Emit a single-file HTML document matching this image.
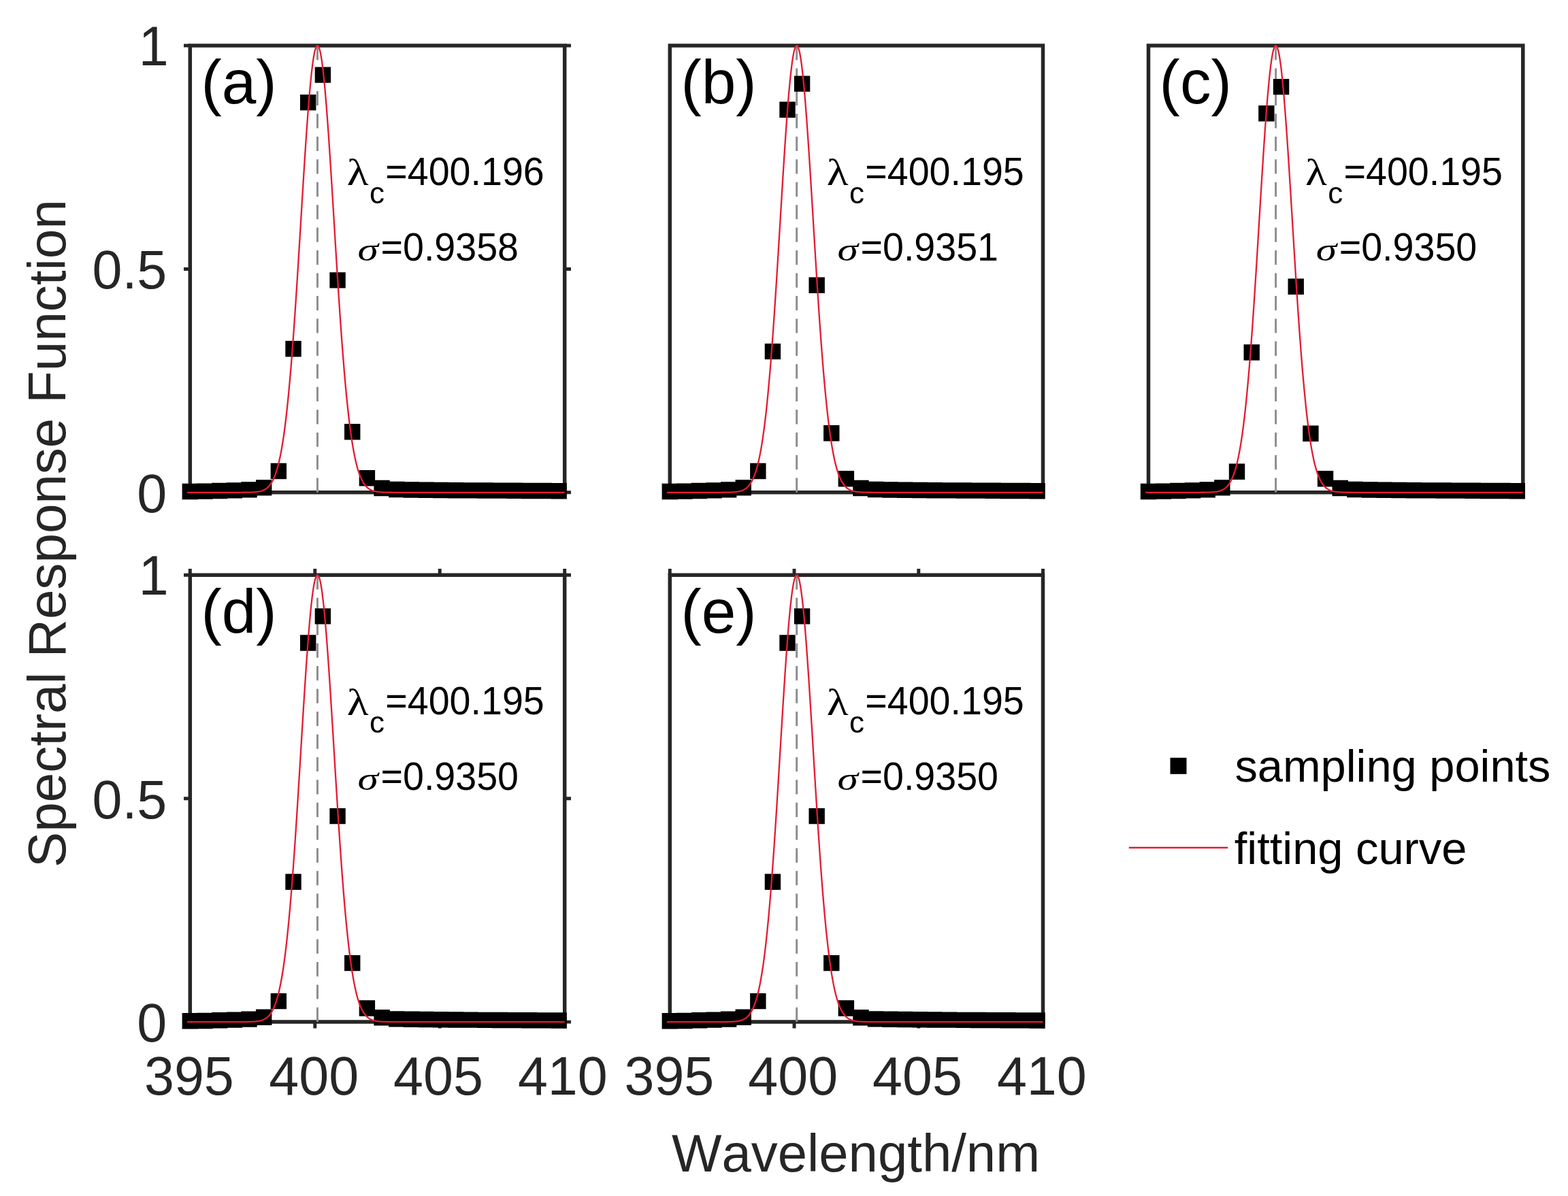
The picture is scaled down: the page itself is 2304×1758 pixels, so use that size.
<!DOCTYPE html>
<html><head><meta charset="utf-8"><title>Spectral Response Function</title>
<style>html,body{margin:0;padding:0;background:#fff;}svg{display:block;}text{font-kerning:none;font-feature-settings:"kern" 0;}</style>
</head><body>
<svg width="2304" height="1758" viewBox="0 0 2304 1758" font-family="Liberation Sans, Arial, sans-serif"><rect width="100%" height="100%" fill="#fff"/><g><path d="M279.3 67H829.7V723.8H279.3Z" fill="none" stroke="#262626" stroke-width="5.5" stroke-linejoin="miter"/><path d="M270 723.8H279.3M829.7 723.8H839M270 395.4H279.3M829.7 395.4H839M270 67H279.3M829.7 67H839" stroke="#262626" stroke-width="4.95" fill="none"/><path d="M466.44 67V723.8" stroke="#8e8e8e" stroke-width="3" stroke-dasharray="21.2 12.25" fill="none"/><path d="M267.6 710.79h23.4v23.4h-23.4zM289.27 710.46h23.4v23.4h-23.4zM310.95 709.8h23.4v23.4h-23.4zM332.62 709.14h23.4v23.4h-23.4zM354.3 708.16h23.4v23.4h-23.4zM375.97 705.2h23.4v23.4h-23.4zM397.65 680.84h23.4v23.4h-23.4zM419.32 501h23.4v23.4h-23.4zM441 138.91h23.4v23.4h-23.4zM462.67 98.39h23.4v23.4h-23.4zM484.35 400.19h23.4v23.4h-23.4zM506.02 623.1h23.4v23.4h-23.4zM527.7 691.02h23.4v23.4h-23.4zM549.37 705.79h23.4v23.4h-23.4zM571.05 707.83h23.4v23.4h-23.4zM592.72 708.29h23.4v23.4h-23.4zM614.4 708.49h23.4v23.4h-23.4zM636.07 708.82h23.4v23.4h-23.4zM657.75 709.01h23.4v23.4h-23.4zM679.42 709.14h23.4v23.4h-23.4zM701.1 709.34h23.4v23.4h-23.4zM722.77 709.47h23.4v23.4h-23.4zM744.44 709.6h23.4v23.4h-23.4zM766.12 709.74h23.4v23.4h-23.4zM787.79 709.87h23.4v23.4h-23.4zM809.47 710h23.4v23.4h-23.4z" fill="#000"/><path d="M274.9 723.8L275.82 723.8L276.75 723.8L277.67 723.8L278.6 723.8L279.52 723.8L280.44 723.8L281.37 723.8L282.29 723.8L283.22 723.8L284.14 723.8L285.07 723.8L285.99 723.8L286.92 723.8L287.84 723.8L288.77 723.8L289.69 723.8L290.62 723.8L291.54 723.8L292.47 723.8L293.39 723.8L294.31 723.8L295.24 723.8L296.16 723.8L297.09 723.8L298.01 723.8L298.94 723.8L299.86 723.8L300.79 723.8L301.71 723.8L302.64 723.8L303.56 723.8L304.49 723.8L305.41 723.8L306.34 723.8L307.26 723.8L308.18 723.8L309.11 723.8L310.03 723.8L310.96 723.8L311.88 723.8L312.81 723.8L313.73 723.8L314.66 723.8L315.58 723.8L316.51 723.8L317.43 723.8L318.36 723.8L319.28 723.8L320.21 723.8L321.13 723.8L322.06 723.8L322.98 723.8L323.9 723.8L324.83 723.8L325.75 723.8L326.68 723.8L327.6 723.8L328.53 723.8L329.45 723.8L330.38 723.8L331.3 723.8L332.23 723.8L333.15 723.8L334.08 723.8L335 723.8L335.93 723.8L336.85 723.8L337.77 723.8L338.7 723.8L339.62 723.8L340.55 723.8L341.47 723.8L342.4 723.8L343.32 723.8L344.25 723.8L345.17 723.8L346.1 723.8L347.02 723.8L347.95 723.8L348.87 723.79L349.8 723.79L350.72 723.79L351.64 723.79L352.57 723.79L353.49 723.79L354.42 723.78L355.34 723.78L356.27 723.78L357.19 723.77L358.12 723.77L359.04 723.76L359.97 723.75L360.89 723.74L361.82 723.73L362.74 723.72L363.67 723.71L364.59 723.69L365.51 723.67L366.44 723.65L367.36 723.63L368.29 723.6L369.21 723.57L370.14 723.53L371.06 723.49L371.99 723.44L372.91 723.38L373.84 723.31L374.76 723.24L375.69 723.15L376.61 723.06L377.54 722.94L378.46 722.82L379.38 722.68L380.31 722.51L381.23 722.33L382.16 722.12L383.08 721.89L384.01 721.63L384.93 721.33L385.86 721L386.78 720.63L387.71 720.21L388.63 719.75L389.56 719.23L390.48 718.66L391.41 718.01L392.33 717.3L393.25 716.52L394.18 715.64L395.1 714.68L396.03 713.62L396.95 712.45L397.88 711.16L398.8 709.75L399.73 708.21L400.65 706.52L401.58 704.67L402.5 702.65L403.43 700.46L404.35 698.08L405.28 695.49L406.2 692.69L407.12 689.66L408.05 686.39L408.97 682.87L409.9 679.07L410.82 675L411.75 670.63L412.67 665.96L413.6 660.96L414.52 655.63L415.45 649.95L416.37 643.92L417.3 637.51L418.22 630.73L419.15 623.56L420.07 615.99L420.99 608.02L421.92 599.63L422.84 590.83L423.77 581.61L424.69 571.97L425.62 561.91L426.54 551.43L427.47 540.53L428.39 529.23L429.32 517.52L430.24 505.42L431.17 492.95L432.09 480.12L433.02 466.94L433.94 453.43L434.87 439.63L435.79 425.55L436.71 411.22L437.64 396.68L438.56 381.95L439.49 367.07L440.41 352.07L441.34 337.01L442.26 321.91L443.19 306.82L444.11 291.78L445.04 276.85L445.96 262.06L446.89 247.47L447.81 233.13L448.74 219.07L449.66 205.37L450.58 192.05L451.51 179.18L452.43 166.79L453.36 154.94L454.28 143.68L455.21 133.04L456.13 123.07L457.06 113.81L457.98 105.3L458.91 97.57L459.83 90.65L460.76 84.57L461.68 79.37L462.61 75.05L463.53 71.65L464.45 69.16L465.38 67.62L466.3 67.01L467.23 67.35L468.15 68.63L469.08 70.84L470 73.99L470.93 78.04L471.85 83L472.78 88.82L473.7 95.5L474.63 103.01L475.55 111.3L476.48 120.35L477.4 130.12L478.32 140.57L479.25 151.66L480.17 163.35L481.1 175.59L482.02 188.33L482.95 201.52L483.87 215.12L484.8 229.08L485.72 243.35L486.65 257.87L487.57 272.61L488.5 287.5L489.42 302.51L490.35 317.59L491.27 332.69L492.19 347.77L493.12 362.79L494.04 377.71L494.97 392.49L495.89 407.09L496.82 421.48L497.74 435.63L498.67 449.52L499.59 463.11L500.52 476.38L501.44 489.32L502.37 501.9L503.29 514.1L504.22 525.92L505.14 537.34L506.06 548.36L506.99 558.96L507.91 569.14L508.84 578.9L509.76 588.24L510.69 597.16L511.61 605.66L512.54 613.75L513.46 621.44L514.39 628.72L515.31 635.62L516.24 642.13L517.16 648.26L518.09 654.04L519.01 659.47L519.93 664.56L520.86 669.33L521.78 673.78L522.71 677.94L523.63 681.81L524.56 685.41L525.48 688.75L526.41 691.85L527.33 694.71L528.26 697.36L529.18 699.8L530.11 702.05L531.03 704.11L531.96 706L532.88 707.74L533.8 709.33L534.73 710.77L535.65 712.09L536.58 713.3L537.5 714.39L538.43 715.38L539.35 716.28L540.28 717.09L541.2 717.82L542.13 718.48L543.05 719.07L543.98 719.61L544.9 720.09L545.83 720.51L546.75 720.9L547.68 721.24L548.6 721.55L549.52 721.82L550.45 722.06L551.37 722.27L552.3 722.46L553.22 722.63L554.15 722.78L555.07 722.91L556 723.03L556.92 723.13L557.85 723.22L558.77 723.29L559.7 723.36L560.62 723.42L561.55 723.47L562.47 723.52L563.39 723.56L564.32 723.59L565.24 723.62L566.17 723.65L567.09 723.67L568.02 723.69L568.94 723.7L569.87 723.72L570.79 723.73L571.72 723.74L572.64 723.75L573.57 723.76L574.49 723.76L575.42 723.77L576.34 723.77L577.26 723.78L578.19 723.78L579.11 723.78L580.04 723.79L580.96 723.79L581.89 723.79L582.81 723.79L583.74 723.79L584.66 723.79L585.59 723.8L586.51 723.8L587.44 723.8L588.36 723.8L589.29 723.8L590.21 723.8L591.13 723.8L592.06 723.8L592.98 723.8L593.91 723.8L594.83 723.8L595.76 723.8L596.68 723.8L597.61 723.8L598.53 723.8L599.46 723.8L600.38 723.8L601.31 723.8L602.23 723.8L603.16 723.8L604.08 723.8L605 723.8L605.93 723.8L606.85 723.8L607.78 723.8L608.7 723.8L609.63 723.8L610.55 723.8L611.48 723.8L612.4 723.8L613.33 723.8L614.25 723.8L615.18 723.8L616.1 723.8L617.03 723.8L617.95 723.8L618.87 723.8L619.8 723.8L620.72 723.8L621.65 723.8L622.57 723.8L623.5 723.8L624.42 723.8L625.35 723.8L626.27 723.8L627.2 723.8L628.12 723.8L629.05 723.8L629.97 723.8L630.9 723.8L631.82 723.8L632.74 723.8L633.67 723.8L634.59 723.8L635.52 723.8L636.44 723.8L637.37 723.8L638.29 723.8L639.22 723.8L640.14 723.8L641.07 723.8L641.99 723.8L642.92 723.8L643.84 723.8L644.77 723.8L645.69 723.8L646.61 723.8L647.54 723.8L648.46 723.8L649.39 723.8L650.31 723.8L651.24 723.8L652.16 723.8L653.09 723.8L654.01 723.8L654.94 723.8L655.86 723.8L656.79 723.8L657.71 723.8L658.64 723.8L659.56 723.8L660.49 723.8L661.41 723.8L662.33 723.8L663.26 723.8L664.18 723.8L665.11 723.8L666.03 723.8L666.96 723.8L667.88 723.8L668.81 723.8L669.73 723.8L670.66 723.8L671.58 723.8L672.51 723.8L673.43 723.8L674.36 723.8L675.28 723.8L676.2 723.8L677.13 723.8L678.05 723.8L678.98 723.8L679.9 723.8L680.83 723.8L681.75 723.8L682.68 723.8L683.6 723.8L684.53 723.8L685.45 723.8L686.38 723.8L687.3 723.8L688.23 723.8L689.15 723.8L690.07 723.8L691 723.8L691.92 723.8L692.85 723.8L693.77 723.8L694.7 723.8L695.62 723.8L696.55 723.8L697.47 723.8L698.4 723.8L699.32 723.8L700.25 723.8L701.17 723.8L702.1 723.8L703.02 723.8L703.94 723.8L704.87 723.8L705.79 723.8L706.72 723.8L707.64 723.8L708.57 723.8L709.49 723.8L710.42 723.8L711.34 723.8L712.27 723.8L713.19 723.8L714.12 723.8L715.04 723.8L715.97 723.8L716.89 723.8L717.81 723.8L718.74 723.8L719.66 723.8L720.59 723.8L721.51 723.8L722.44 723.8L723.36 723.8L724.29 723.8L725.21 723.8L726.14 723.8L727.06 723.8L727.99 723.8L728.91 723.8L729.84 723.8L730.76 723.8L731.68 723.8L732.61 723.8L733.53 723.8L734.46 723.8L735.38 723.8L736.31 723.8L737.23 723.8L738.16 723.8L739.08 723.8L740.01 723.8L740.93 723.8L741.86 723.8L742.78 723.8L743.71 723.8L744.63 723.8L745.55 723.8L746.48 723.8L747.4 723.8L748.33 723.8L749.25 723.8L750.18 723.8L751.1 723.8L752.03 723.8L752.95 723.8L753.88 723.8L754.8 723.8L755.73 723.8L756.65 723.8L757.58 723.8L758.5 723.8L759.42 723.8L760.35 723.8L761.27 723.8L762.2 723.8L763.12 723.8L764.05 723.8L764.97 723.8L765.9 723.8L766.82 723.8L767.75 723.8L768.67 723.8L769.6 723.8L770.52 723.8L771.45 723.8L772.37 723.8L773.3 723.8L774.22 723.8L775.14 723.8L776.07 723.8L776.99 723.8L777.92 723.8L778.84 723.8L779.77 723.8L780.69 723.8L781.62 723.8L782.54 723.8L783.47 723.8L784.39 723.8L785.32 723.8L786.24 723.8L787.17 723.8L788.09 723.8L789.01 723.8L789.94 723.8L790.86 723.8L791.79 723.8L792.71 723.8L793.64 723.8L794.56 723.8L795.49 723.8L796.41 723.8L797.34 723.8L798.26 723.8L799.19 723.8L800.11 723.8L801.04 723.8L801.96 723.8L802.88 723.8L803.81 723.8L804.73 723.8L805.66 723.8L806.58 723.8L807.51 723.8L808.43 723.8L809.36 723.8L810.28 723.8L811.21 723.8L812.13 723.8L813.06 723.8L813.98 723.8L814.91 723.8L815.83 723.8L816.75 723.8L817.68 723.8L818.6 723.8L819.53 723.8L820.45 723.8L821.38 723.8L822.3 723.8L823.23 723.8L824.15 723.8L825.08 723.8L826 723.8L826.93 723.8L827.85 723.8L828.78 723.8L829.7 723.8" fill="none" stroke="#e41b33" stroke-width="2.3" stroke-linejoin="round"/><text transform="translate(295.4 152)" font-size="91" fill="#000">(a)</text><text transform="translate(509.7 272.3) scale(1.18 1.0)" font-size="55.8" fill="#000" font-family="Liberation Serif, serif">λ</text><text transform="translate(543.1 298.8) scale(1.0 1.02)" font-size="44" fill="#000">c</text><text transform="translate(566.3 271.8) scale(1.0 1.035)" font-size="55.6" fill="#000">=400.196</text><text transform="translate(525.5 383.1) scale(1.255 1.0)" font-size="49.1" fill="#000" font-family="Liberation Serif, serif" font-style="italic">σ</text><text transform="translate(559.5 382.5) scale(1.0 1.035)" font-size="55.6" fill="#000">=0.9358</text><text transform="translate(247.8 96) scale(1.0 1.025)" font-size="79" fill="#262626" text-anchor="end">1</text><text transform="translate(245.3 424.4) scale(1.0 1.02)" font-size="79" fill="#262626" text-anchor="end">0.5</text><text transform="translate(245.3 752.8) scale(1.0 1.02)" font-size="79" fill="#262626" text-anchor="end">0</text></g><g><path d="M984.3 67H1532.5V723.8H984.3Z" fill="none" stroke="#262626" stroke-width="5.5" stroke-linejoin="miter"/><path d="M1170.69 67V723.8" stroke="#8e8e8e" stroke-width="3" stroke-dasharray="21.2 12.25" fill="none"/><path d="M972.6 710.79h23.4v23.4h-23.4zM994.19 710.46h23.4v23.4h-23.4zM1015.78 709.8h23.4v23.4h-23.4zM1037.36 709.14h23.4v23.4h-23.4zM1058.95 708.16h23.4v23.4h-23.4zM1080.54 705.2h23.4v23.4h-23.4zM1102.13 680.77h23.4v23.4h-23.4zM1123.72 504.88h23.4v23.4h-23.4zM1145.3 149.49h23.4v23.4h-23.4zM1166.89 111.39h23.4v23.4h-23.4zM1188.48 407.48h23.4v23.4h-23.4zM1210.07 625.01h23.4v23.4h-23.4zM1231.66 692h23.4v23.4h-23.4zM1253.25 705.79h23.4v23.4h-23.4zM1274.83 707.83h23.4v23.4h-23.4zM1296.42 708.29h23.4v23.4h-23.4zM1318.01 708.49h23.4v23.4h-23.4zM1339.6 708.82h23.4v23.4h-23.4zM1361.19 709.01h23.4v23.4h-23.4zM1382.77 709.14h23.4v23.4h-23.4zM1404.36 709.34h23.4v23.4h-23.4zM1425.95 709.47h23.4v23.4h-23.4zM1447.54 709.6h23.4v23.4h-23.4zM1469.13 709.74h23.4v23.4h-23.4zM1490.71 709.87h23.4v23.4h-23.4zM1512.3 710h23.4v23.4h-23.4z" fill="#000"/><path d="M979.91 723.8L980.84 723.8L981.76 723.8L982.68 723.8L983.6 723.8L984.52 723.8L985.44 723.8L986.36 723.8L987.28 723.8L988.2 723.8L989.12 723.8L990.05 723.8L990.97 723.8L991.89 723.8L992.81 723.8L993.73 723.8L994.65 723.8L995.57 723.8L996.49 723.8L997.41 723.8L998.33 723.8L999.25 723.8L1000.18 723.8L1001.1 723.8L1002.02 723.8L1002.94 723.8L1003.86 723.8L1004.78 723.8L1005.7 723.8L1006.62 723.8L1007.54 723.8L1008.46 723.8L1009.39 723.8L1010.31 723.8L1011.23 723.8L1012.15 723.8L1013.07 723.8L1013.99 723.8L1014.91 723.8L1015.83 723.8L1016.75 723.8L1017.67 723.8L1018.6 723.8L1019.52 723.8L1020.44 723.8L1021.36 723.8L1022.28 723.8L1023.2 723.8L1024.12 723.8L1025.04 723.8L1025.96 723.8L1026.88 723.8L1027.81 723.8L1028.73 723.8L1029.65 723.8L1030.57 723.8L1031.49 723.8L1032.41 723.8L1033.33 723.8L1034.25 723.8L1035.17 723.8L1036.09 723.8L1037.01 723.8L1037.94 723.8L1038.86 723.8L1039.78 723.8L1040.7 723.8L1041.62 723.8L1042.54 723.8L1043.46 723.8L1044.38 723.8L1045.3 723.8L1046.22 723.8L1047.15 723.8L1048.07 723.8L1048.99 723.8L1049.91 723.8L1050.83 723.8L1051.75 723.8L1052.67 723.8L1053.59 723.79L1054.51 723.79L1055.43 723.79L1056.36 723.79L1057.28 723.79L1058.2 723.79L1059.12 723.78L1060.04 723.78L1060.96 723.78L1061.88 723.77L1062.8 723.77L1063.72 723.76L1064.64 723.75L1065.57 723.74L1066.49 723.73L1067.41 723.72L1068.33 723.71L1069.25 723.69L1070.17 723.67L1071.09 723.65L1072.01 723.63L1072.93 723.6L1073.85 723.57L1074.77 723.53L1075.7 723.49L1076.62 723.44L1077.54 723.38L1078.46 723.31L1079.38 723.24L1080.3 723.15L1081.22 723.06L1082.14 722.94L1083.06 722.82L1083.98 722.68L1084.91 722.51L1085.83 722.33L1086.75 722.12L1087.67 721.89L1088.59 721.63L1089.51 721.33L1090.43 721L1091.35 720.63L1092.27 720.21L1093.19 719.75L1094.12 719.23L1095.04 718.66L1095.96 718.01L1096.88 717.3L1097.8 716.52L1098.72 715.64L1099.64 714.68L1100.56 713.62L1101.48 712.45L1102.4 711.16L1103.33 709.75L1104.25 708.21L1105.17 706.52L1106.09 704.67L1107.01 702.65L1107.93 700.46L1108.85 698.08L1109.77 695.49L1110.69 692.69L1111.61 689.66L1112.53 686.39L1113.46 682.87L1114.38 679.07L1115.3 675L1116.22 670.63L1117.14 665.96L1118.06 660.96L1118.98 655.63L1119.9 649.95L1120.82 643.92L1121.74 637.51L1122.67 630.73L1123.59 623.56L1124.51 615.99L1125.43 608.02L1126.35 599.63L1127.27 590.83L1128.19 581.61L1129.11 571.97L1130.03 561.91L1130.95 551.43L1131.88 540.53L1132.8 529.23L1133.72 517.52L1134.64 505.42L1135.56 492.95L1136.48 480.12L1137.4 466.94L1138.32 453.43L1139.24 439.63L1140.16 425.55L1141.09 411.22L1142.01 396.68L1142.93 381.95L1143.85 367.07L1144.77 352.07L1145.69 337.01L1146.61 321.91L1147.53 306.82L1148.45 291.78L1149.37 276.85L1150.29 262.06L1151.22 247.47L1152.14 233.13L1153.06 219.07L1153.98 205.37L1154.9 192.05L1155.82 179.18L1156.74 166.79L1157.66 154.94L1158.58 143.68L1159.5 133.04L1160.43 123.07L1161.35 113.81L1162.27 105.3L1163.19 97.57L1164.11 90.65L1165.03 84.57L1165.95 79.37L1166.87 75.05L1167.79 71.65L1168.71 69.16L1169.64 67.62L1170.56 67.01L1171.48 67.35L1172.4 68.63L1173.32 70.84L1174.24 73.99L1175.16 78.04L1176.08 83L1177 88.82L1177.92 95.5L1178.85 103.01L1179.77 111.3L1180.69 120.35L1181.61 130.12L1182.53 140.57L1183.45 151.66L1184.37 163.35L1185.29 175.59L1186.21 188.33L1187.13 201.52L1188.05 215.12L1188.98 229.08L1189.9 243.35L1190.82 257.87L1191.74 272.61L1192.66 287.5L1193.58 302.51L1194.5 317.59L1195.42 332.69L1196.34 347.77L1197.26 362.79L1198.19 377.71L1199.11 392.49L1200.03 407.09L1200.95 421.48L1201.87 435.63L1202.79 449.52L1203.71 463.11L1204.63 476.38L1205.55 489.32L1206.47 501.9L1207.4 514.1L1208.32 525.92L1209.24 537.34L1210.16 548.36L1211.08 558.96L1212 569.14L1212.92 578.9L1213.84 588.24L1214.76 597.16L1215.68 605.66L1216.61 613.75L1217.53 621.44L1218.45 628.72L1219.37 635.62L1220.29 642.13L1221.21 648.26L1222.13 654.04L1223.05 659.47L1223.97 664.56L1224.89 669.33L1225.81 673.78L1226.74 677.94L1227.66 681.81L1228.58 685.41L1229.5 688.75L1230.42 691.85L1231.34 694.71L1232.26 697.36L1233.18 699.8L1234.1 702.05L1235.02 704.11L1235.95 706L1236.87 707.74L1237.79 709.33L1238.71 710.77L1239.63 712.09L1240.55 713.3L1241.47 714.39L1242.39 715.38L1243.31 716.28L1244.23 717.09L1245.16 717.82L1246.08 718.48L1247 719.07L1247.92 719.61L1248.84 720.09L1249.76 720.51L1250.68 720.9L1251.6 721.24L1252.52 721.55L1253.44 721.82L1254.37 722.06L1255.29 722.27L1256.21 722.46L1257.13 722.63L1258.05 722.78L1258.97 722.91L1259.89 723.03L1260.81 723.13L1261.73 723.22L1262.65 723.29L1263.58 723.36L1264.5 723.42L1265.42 723.47L1266.34 723.52L1267.26 723.56L1268.18 723.59L1269.1 723.62L1270.02 723.65L1270.94 723.67L1271.86 723.69L1272.78 723.7L1273.71 723.72L1274.63 723.73L1275.55 723.74L1276.47 723.75L1277.39 723.76L1278.31 723.76L1279.23 723.77L1280.15 723.77L1281.07 723.78L1281.99 723.78L1282.92 723.78L1283.84 723.79L1284.76 723.79L1285.68 723.79L1286.6 723.79L1287.52 723.79L1288.44 723.79L1289.36 723.8L1290.28 723.8L1291.2 723.8L1292.13 723.8L1293.05 723.8L1293.97 723.8L1294.89 723.8L1295.81 723.8L1296.73 723.8L1297.65 723.8L1298.57 723.8L1299.49 723.8L1300.41 723.8L1301.34 723.8L1302.26 723.8L1303.18 723.8L1304.1 723.8L1305.02 723.8L1305.94 723.8L1306.86 723.8L1307.78 723.8L1308.7 723.8L1309.62 723.8L1310.54 723.8L1311.47 723.8L1312.39 723.8L1313.31 723.8L1314.23 723.8L1315.15 723.8L1316.07 723.8L1316.99 723.8L1317.91 723.8L1318.83 723.8L1319.75 723.8L1320.68 723.8L1321.6 723.8L1322.52 723.8L1323.44 723.8L1324.36 723.8L1325.28 723.8L1326.2 723.8L1327.12 723.8L1328.04 723.8L1328.96 723.8L1329.89 723.8L1330.81 723.8L1331.73 723.8L1332.65 723.8L1333.57 723.8L1334.49 723.8L1335.41 723.8L1336.33 723.8L1337.25 723.8L1338.17 723.8L1339.1 723.8L1340.02 723.8L1340.94 723.8L1341.86 723.8L1342.78 723.8L1343.7 723.8L1344.62 723.8L1345.54 723.8L1346.46 723.8L1347.38 723.8L1348.3 723.8L1349.23 723.8L1350.15 723.8L1351.07 723.8L1351.99 723.8L1352.91 723.8L1353.83 723.8L1354.75 723.8L1355.67 723.8L1356.59 723.8L1357.51 723.8L1358.44 723.8L1359.36 723.8L1360.28 723.8L1361.2 723.8L1362.12 723.8L1363.04 723.8L1363.96 723.8L1364.88 723.8L1365.8 723.8L1366.72 723.8L1367.65 723.8L1368.57 723.8L1369.49 723.8L1370.41 723.8L1371.33 723.8L1372.25 723.8L1373.17 723.8L1374.09 723.8L1375.01 723.8L1375.93 723.8L1376.86 723.8L1377.78 723.8L1378.7 723.8L1379.62 723.8L1380.54 723.8L1381.46 723.8L1382.38 723.8L1383.3 723.8L1384.22 723.8L1385.14 723.8L1386.06 723.8L1386.99 723.8L1387.91 723.8L1388.83 723.8L1389.75 723.8L1390.67 723.8L1391.59 723.8L1392.51 723.8L1393.43 723.8L1394.35 723.8L1395.27 723.8L1396.2 723.8L1397.12 723.8L1398.04 723.8L1398.96 723.8L1399.88 723.8L1400.8 723.8L1401.72 723.8L1402.64 723.8L1403.56 723.8L1404.48 723.8L1405.41 723.8L1406.33 723.8L1407.25 723.8L1408.17 723.8L1409.09 723.8L1410.01 723.8L1410.93 723.8L1411.85 723.8L1412.77 723.8L1413.69 723.8L1414.62 723.8L1415.54 723.8L1416.46 723.8L1417.38 723.8L1418.3 723.8L1419.22 723.8L1420.14 723.8L1421.06 723.8L1421.98 723.8L1422.9 723.8L1423.82 723.8L1424.75 723.8L1425.67 723.8L1426.59 723.8L1427.51 723.8L1428.43 723.8L1429.35 723.8L1430.27 723.8L1431.19 723.8L1432.11 723.8L1433.03 723.8L1433.96 723.8L1434.88 723.8L1435.8 723.8L1436.72 723.8L1437.64 723.8L1438.56 723.8L1439.48 723.8L1440.4 723.8L1441.32 723.8L1442.24 723.8L1443.17 723.8L1444.09 723.8L1445.01 723.8L1445.93 723.8L1446.85 723.8L1447.77 723.8L1448.69 723.8L1449.61 723.8L1450.53 723.8L1451.45 723.8L1452.38 723.8L1453.3 723.8L1454.22 723.8L1455.14 723.8L1456.06 723.8L1456.98 723.8L1457.9 723.8L1458.82 723.8L1459.74 723.8L1460.66 723.8L1461.58 723.8L1462.51 723.8L1463.43 723.8L1464.35 723.8L1465.27 723.8L1466.19 723.8L1467.11 723.8L1468.03 723.8L1468.95 723.8L1469.87 723.8L1470.79 723.8L1471.72 723.8L1472.64 723.8L1473.56 723.8L1474.48 723.8L1475.4 723.8L1476.32 723.8L1477.24 723.8L1478.16 723.8L1479.08 723.8L1480 723.8L1480.93 723.8L1481.85 723.8L1482.77 723.8L1483.69 723.8L1484.61 723.8L1485.53 723.8L1486.45 723.8L1487.37 723.8L1488.29 723.8L1489.21 723.8L1490.14 723.8L1491.06 723.8L1491.98 723.8L1492.9 723.8L1493.82 723.8L1494.74 723.8L1495.66 723.8L1496.58 723.8L1497.5 723.8L1498.42 723.8L1499.34 723.8L1500.27 723.8L1501.19 723.8L1502.11 723.8L1503.03 723.8L1503.95 723.8L1504.87 723.8L1505.79 723.8L1506.71 723.8L1507.63 723.8L1508.55 723.8L1509.48 723.8L1510.4 723.8L1511.32 723.8L1512.24 723.8L1513.16 723.8L1514.08 723.8L1515 723.8L1515.92 723.8L1516.84 723.8L1517.76 723.8L1518.69 723.8L1519.61 723.8L1520.53 723.8L1521.45 723.8L1522.37 723.8L1523.29 723.8L1524.21 723.8L1525.13 723.8L1526.05 723.8L1526.97 723.8L1527.9 723.8L1528.82 723.8L1529.74 723.8L1530.66 723.8L1531.58 723.8L1532.5 723.8" fill="none" stroke="#e41b33" stroke-width="2.3" stroke-linejoin="round"/><text transform="translate(1000.4 152)" font-size="91" fill="#000">(b)</text><text transform="translate(1214.7 272.3) scale(1.18 1.0)" font-size="55.8" fill="#000" font-family="Liberation Serif, serif">λ</text><text transform="translate(1248.1 298.8) scale(1.0 1.02)" font-size="44" fill="#000">c</text><text transform="translate(1271.3 271.8) scale(1.0 1.035)" font-size="55.6" fill="#000">=400.195</text><text transform="translate(1230.5 383.1) scale(1.255 1.0)" font-size="49.1" fill="#000" font-family="Liberation Serif, serif" font-style="italic">σ</text><text transform="translate(1264.5 382.5) scale(1.0 1.035)" font-size="55.6" fill="#000">=0.9351</text></g><g><path d="M1687.5 67H2237.8V723.8H1687.5Z" fill="none" stroke="#262626" stroke-width="5.5" stroke-linejoin="miter"/><path d="M1874.6 67V723.8" stroke="#8e8e8e" stroke-width="3" stroke-dasharray="21.2 12.25" fill="none"/><path d="M1675.8 710.79h23.4v23.4h-23.4zM1697.47 710.46h23.4v23.4h-23.4zM1719.14 709.8h23.4v23.4h-23.4zM1740.81 709.14h23.4v23.4h-23.4zM1762.48 708.16h23.4v23.4h-23.4zM1784.15 705.2h23.4v23.4h-23.4zM1805.82 681.62h23.4v23.4h-23.4zM1827.5 506.32h23.4v23.4h-23.4zM1849.17 155h23.4v23.4h-23.4zM1870.84 115.92h23.4v23.4h-23.4zM1892.51 409.58h23.4v23.4h-23.4zM1914.18 625.6h23.4v23.4h-23.4zM1935.85 692h23.4v23.4h-23.4zM1957.52 705.79h23.4v23.4h-23.4zM1979.19 707.83h23.4v23.4h-23.4zM2000.86 708.29h23.4v23.4h-23.4zM2022.53 708.49h23.4v23.4h-23.4zM2044.2 708.82h23.4v23.4h-23.4zM2065.87 709.01h23.4v23.4h-23.4zM2087.55 709.14h23.4v23.4h-23.4zM2109.22 709.34h23.4v23.4h-23.4zM2130.89 709.47h23.4v23.4h-23.4zM2152.56 709.6h23.4v23.4h-23.4zM2174.23 709.74h23.4v23.4h-23.4zM2195.9 709.87h23.4v23.4h-23.4zM2217.57 710h23.4v23.4h-23.4z" fill="#000"/><path d="M1683.1 723.8L1684.02 723.8L1684.95 723.8L1685.87 723.8L1686.8 723.8L1687.72 723.8L1688.64 723.8L1689.57 723.8L1690.49 723.8L1691.42 723.8L1692.34 723.8L1693.27 723.8L1694.19 723.8L1695.12 723.8L1696.04 723.8L1696.97 723.8L1697.89 723.8L1698.81 723.8L1699.74 723.8L1700.66 723.8L1701.59 723.8L1702.51 723.8L1703.44 723.8L1704.36 723.8L1705.29 723.8L1706.21 723.8L1707.13 723.8L1708.06 723.8L1708.98 723.8L1709.91 723.8L1710.83 723.8L1711.76 723.8L1712.68 723.8L1713.61 723.8L1714.53 723.8L1715.46 723.8L1716.38 723.8L1717.3 723.8L1718.23 723.8L1719.15 723.8L1720.08 723.8L1721 723.8L1721.93 723.8L1722.85 723.8L1723.78 723.8L1724.7 723.8L1725.62 723.8L1726.55 723.8L1727.47 723.8L1728.4 723.8L1729.32 723.8L1730.25 723.8L1731.17 723.8L1732.1 723.8L1733.02 723.8L1733.95 723.8L1734.87 723.8L1735.79 723.8L1736.72 723.8L1737.64 723.8L1738.57 723.8L1739.49 723.8L1740.42 723.8L1741.34 723.8L1742.27 723.8L1743.19 723.8L1744.11 723.8L1745.04 723.8L1745.96 723.8L1746.89 723.8L1747.81 723.8L1748.74 723.8L1749.66 723.8L1750.59 723.8L1751.51 723.8L1752.44 723.8L1753.36 723.8L1754.28 723.8L1755.21 723.8L1756.13 723.8L1757.06 723.79L1757.98 723.79L1758.91 723.79L1759.83 723.79L1760.76 723.79L1761.68 723.79L1762.6 723.78L1763.53 723.78L1764.45 723.78L1765.38 723.77L1766.3 723.77L1767.23 723.76L1768.15 723.75L1769.08 723.74L1770 723.73L1770.93 723.72L1771.85 723.71L1772.77 723.69L1773.7 723.67L1774.62 723.65L1775.55 723.63L1776.47 723.6L1777.4 723.57L1778.32 723.53L1779.25 723.49L1780.17 723.44L1781.1 723.38L1782.02 723.31L1782.94 723.24L1783.87 723.15L1784.79 723.06L1785.72 722.94L1786.64 722.82L1787.57 722.68L1788.49 722.51L1789.42 722.33L1790.34 722.12L1791.26 721.89L1792.19 721.63L1793.11 721.33L1794.04 721L1794.96 720.63L1795.89 720.21L1796.81 719.75L1797.74 719.23L1798.66 718.66L1799.59 718.01L1800.51 717.3L1801.43 716.52L1802.36 715.64L1803.28 714.68L1804.21 713.62L1805.13 712.45L1806.06 711.16L1806.98 709.75L1807.91 708.21L1808.83 706.52L1809.75 704.67L1810.68 702.65L1811.6 700.46L1812.53 698.08L1813.45 695.49L1814.38 692.69L1815.3 689.66L1816.23 686.39L1817.15 682.87L1818.08 679.07L1819 675L1819.92 670.63L1820.85 665.96L1821.77 660.96L1822.7 655.63L1823.62 649.95L1824.55 643.92L1825.47 637.51L1826.4 630.73L1827.32 623.56L1828.24 615.99L1829.17 608.02L1830.09 599.63L1831.02 590.83L1831.94 581.61L1832.87 571.97L1833.79 561.91L1834.72 551.43L1835.64 540.53L1836.57 529.23L1837.49 517.52L1838.41 505.42L1839.34 492.95L1840.26 480.12L1841.19 466.94L1842.11 453.43L1843.04 439.63L1843.96 425.55L1844.89 411.22L1845.81 396.68L1846.73 381.95L1847.66 367.07L1848.58 352.07L1849.51 337.01L1850.43 321.91L1851.36 306.82L1852.28 291.78L1853.21 276.85L1854.13 262.06L1855.06 247.47L1855.98 233.13L1856.9 219.07L1857.83 205.37L1858.75 192.05L1859.68 179.18L1860.6 166.79L1861.53 154.94L1862.45 143.68L1863.38 133.04L1864.3 123.07L1865.22 113.81L1866.15 105.3L1867.07 97.57L1868 90.65L1868.92 84.57L1869.85 79.37L1870.77 75.05L1871.7 71.65L1872.62 69.16L1873.55 67.62L1874.47 67.01L1875.39 67.35L1876.32 68.63L1877.24 70.84L1878.17 73.99L1879.09 78.04L1880.02 83L1880.94 88.82L1881.87 95.5L1882.79 103.01L1883.71 111.3L1884.64 120.35L1885.56 130.12L1886.49 140.57L1887.41 151.66L1888.34 163.35L1889.26 175.59L1890.19 188.33L1891.11 201.52L1892.04 215.12L1892.96 229.08L1893.88 243.35L1894.81 257.87L1895.73 272.61L1896.66 287.5L1897.58 302.51L1898.51 317.59L1899.43 332.69L1900.36 347.77L1901.28 362.79L1902.21 377.71L1903.13 392.49L1904.05 407.09L1904.98 421.48L1905.9 435.63L1906.83 449.52L1907.75 463.11L1908.68 476.38L1909.6 489.32L1910.53 501.9L1911.45 514.1L1912.37 525.92L1913.3 537.34L1914.22 548.36L1915.15 558.96L1916.07 569.14L1917 578.9L1917.92 588.24L1918.85 597.16L1919.77 605.66L1920.7 613.75L1921.62 621.44L1922.54 628.72L1923.47 635.62L1924.39 642.13L1925.32 648.26L1926.24 654.04L1927.17 659.47L1928.09 664.56L1929.02 669.33L1929.94 673.78L1930.86 677.94L1931.79 681.81L1932.71 685.41L1933.64 688.75L1934.56 691.85L1935.49 694.71L1936.41 697.36L1937.34 699.8L1938.26 702.05L1939.19 704.11L1940.11 706L1941.03 707.74L1941.96 709.33L1942.88 710.77L1943.81 712.09L1944.73 713.3L1945.66 714.39L1946.58 715.38L1947.51 716.28L1948.43 717.09L1949.35 717.82L1950.28 718.48L1951.2 719.07L1952.13 719.61L1953.05 720.09L1953.98 720.51L1954.9 720.9L1955.83 721.24L1956.75 721.55L1957.68 721.82L1958.6 722.06L1959.52 722.27L1960.45 722.46L1961.37 722.63L1962.3 722.78L1963.22 722.91L1964.15 723.03L1965.07 723.13L1966 723.22L1966.92 723.29L1967.84 723.36L1968.77 723.42L1969.69 723.47L1970.62 723.52L1971.54 723.56L1972.47 723.59L1973.39 723.62L1974.32 723.65L1975.24 723.67L1976.17 723.69L1977.09 723.7L1978.01 723.72L1978.94 723.73L1979.86 723.74L1980.79 723.75L1981.71 723.76L1982.64 723.76L1983.56 723.77L1984.49 723.77L1985.41 723.78L1986.33 723.78L1987.26 723.78L1988.18 723.79L1989.11 723.79L1990.03 723.79L1990.96 723.79L1991.88 723.79L1992.81 723.79L1993.73 723.8L1994.66 723.8L1995.58 723.8L1996.5 723.8L1997.43 723.8L1998.35 723.8L1999.28 723.8L2000.2 723.8L2001.13 723.8L2002.05 723.8L2002.98 723.8L2003.9 723.8L2004.82 723.8L2005.75 723.8L2006.67 723.8L2007.6 723.8L2008.52 723.8L2009.45 723.8L2010.37 723.8L2011.3 723.8L2012.22 723.8L2013.15 723.8L2014.07 723.8L2014.99 723.8L2015.92 723.8L2016.84 723.8L2017.77 723.8L2018.69 723.8L2019.62 723.8L2020.54 723.8L2021.47 723.8L2022.39 723.8L2023.32 723.8L2024.24 723.8L2025.16 723.8L2026.09 723.8L2027.01 723.8L2027.94 723.8L2028.86 723.8L2029.79 723.8L2030.71 723.8L2031.64 723.8L2032.56 723.8L2033.48 723.8L2034.41 723.8L2035.33 723.8L2036.26 723.8L2037.18 723.8L2038.11 723.8L2039.03 723.8L2039.96 723.8L2040.88 723.8L2041.81 723.8L2042.73 723.8L2043.65 723.8L2044.58 723.8L2045.5 723.8L2046.43 723.8L2047.35 723.8L2048.28 723.8L2049.2 723.8L2050.13 723.8L2051.05 723.8L2051.97 723.8L2052.9 723.8L2053.82 723.8L2054.75 723.8L2055.67 723.8L2056.6 723.8L2057.52 723.8L2058.45 723.8L2059.37 723.8L2060.3 723.8L2061.22 723.8L2062.14 723.8L2063.07 723.8L2063.99 723.8L2064.92 723.8L2065.84 723.8L2066.77 723.8L2067.69 723.8L2068.62 723.8L2069.54 723.8L2070.46 723.8L2071.39 723.8L2072.31 723.8L2073.24 723.8L2074.16 723.8L2075.09 723.8L2076.01 723.8L2076.94 723.8L2077.86 723.8L2078.79 723.8L2079.71 723.8L2080.63 723.8L2081.56 723.8L2082.48 723.8L2083.41 723.8L2084.33 723.8L2085.26 723.8L2086.18 723.8L2087.11 723.8L2088.03 723.8L2088.95 723.8L2089.88 723.8L2090.8 723.8L2091.73 723.8L2092.65 723.8L2093.58 723.8L2094.5 723.8L2095.43 723.8L2096.35 723.8L2097.28 723.8L2098.2 723.8L2099.12 723.8L2100.05 723.8L2100.97 723.8L2101.9 723.8L2102.82 723.8L2103.75 723.8L2104.67 723.8L2105.6 723.8L2106.52 723.8L2107.44 723.8L2108.37 723.8L2109.29 723.8L2110.22 723.8L2111.14 723.8L2112.07 723.8L2112.99 723.8L2113.92 723.8L2114.84 723.8L2115.77 723.8L2116.69 723.8L2117.61 723.8L2118.54 723.8L2119.46 723.8L2120.39 723.8L2121.31 723.8L2122.24 723.8L2123.16 723.8L2124.09 723.8L2125.01 723.8L2125.94 723.8L2126.86 723.8L2127.78 723.8L2128.71 723.8L2129.63 723.8L2130.56 723.8L2131.48 723.8L2132.41 723.8L2133.33 723.8L2134.26 723.8L2135.18 723.8L2136.1 723.8L2137.03 723.8L2137.95 723.8L2138.88 723.8L2139.8 723.8L2140.73 723.8L2141.65 723.8L2142.58 723.8L2143.5 723.8L2144.43 723.8L2145.35 723.8L2146.27 723.8L2147.2 723.8L2148.12 723.8L2149.05 723.8L2149.97 723.8L2150.9 723.8L2151.82 723.8L2152.75 723.8L2153.67 723.8L2154.59 723.8L2155.52 723.8L2156.44 723.8L2157.37 723.8L2158.29 723.8L2159.22 723.8L2160.14 723.8L2161.07 723.8L2161.99 723.8L2162.92 723.8L2163.84 723.8L2164.76 723.8L2165.69 723.8L2166.61 723.8L2167.54 723.8L2168.46 723.8L2169.39 723.8L2170.31 723.8L2171.24 723.8L2172.16 723.8L2173.08 723.8L2174.01 723.8L2174.93 723.8L2175.86 723.8L2176.78 723.8L2177.71 723.8L2178.63 723.8L2179.56 723.8L2180.48 723.8L2181.41 723.8L2182.33 723.8L2183.25 723.8L2184.18 723.8L2185.1 723.8L2186.03 723.8L2186.95 723.8L2187.88 723.8L2188.8 723.8L2189.73 723.8L2190.65 723.8L2191.57 723.8L2192.5 723.8L2193.42 723.8L2194.35 723.8L2195.27 723.8L2196.2 723.8L2197.12 723.8L2198.05 723.8L2198.97 723.8L2199.9 723.8L2200.82 723.8L2201.74 723.8L2202.67 723.8L2203.59 723.8L2204.52 723.8L2205.44 723.8L2206.37 723.8L2207.29 723.8L2208.22 723.8L2209.14 723.8L2210.06 723.8L2210.99 723.8L2211.91 723.8L2212.84 723.8L2213.76 723.8L2214.69 723.8L2215.61 723.8L2216.54 723.8L2217.46 723.8L2218.39 723.8L2219.31 723.8L2220.23 723.8L2221.16 723.8L2222.08 723.8L2223.01 723.8L2223.93 723.8L2224.86 723.8L2225.78 723.8L2226.71 723.8L2227.63 723.8L2228.55 723.8L2229.48 723.8L2230.4 723.8L2231.33 723.8L2232.25 723.8L2233.18 723.8L2234.1 723.8L2235.03 723.8L2235.95 723.8L2236.88 723.8L2237.8 723.8" fill="none" stroke="#e41b33" stroke-width="2.3" stroke-linejoin="round"/><text transform="translate(1703.6 152)" font-size="91" fill="#000">(c)</text><text transform="translate(1917.9 272.3) scale(1.18 1.0)" font-size="55.8" fill="#000" font-family="Liberation Serif, serif">λ</text><text transform="translate(1951.3 298.8) scale(1.0 1.02)" font-size="44" fill="#000">c</text><text transform="translate(1974.5 271.8) scale(1.0 1.035)" font-size="55.6" fill="#000">=400.195</text><text transform="translate(1933.7 383.1) scale(1.255 1.0)" font-size="49.1" fill="#000" font-family="Liberation Serif, serif" font-style="italic">σ</text><text transform="translate(1967.7 382.5) scale(1.0 1.035)" font-size="55.6" fill="#000">=0.9350</text></g><g><path d="M279.3 845.3H829.7V1502.1H279.3Z" fill="none" stroke="#262626" stroke-width="5.5" stroke-linejoin="miter"/><path d="M270 1502.1H279.3M829.7 1502.1H839M270 1173.7H279.3M829.7 1173.7H839M270 845.3H279.3M829.7 845.3H839M279.3 836V845.3M279.3 1502.1V1511.4M462.77 836V845.3M462.77 1502.1V1511.4M646.23 836V845.3M646.23 1502.1V1511.4M829.7 836V845.3M829.7 1502.1V1511.4" stroke="#262626" stroke-width="4.95" fill="none"/><path d="M466.44 845.3V1502.1" stroke="#8e8e8e" stroke-width="3" stroke-dasharray="21.2 12.25" fill="none"/><path d="M267.6 1489.09h23.4v23.4h-23.4zM289.27 1488.76h23.4v23.4h-23.4zM310.95 1488.1h23.4v23.4h-23.4zM332.62 1487.44h23.4v23.4h-23.4zM354.3 1486.46h23.4v23.4h-23.4zM375.97 1483.5h23.4v23.4h-23.4zM397.65 1459.92h23.4v23.4h-23.4zM419.32 1284.62h23.4v23.4h-23.4zM441 933.3h23.4v23.4h-23.4zM462.67 894.22h23.4v23.4h-23.4zM484.35 1187.88h23.4v23.4h-23.4zM506.02 1403.9h23.4v23.4h-23.4zM527.7 1470.3h23.4v23.4h-23.4zM549.37 1484.09h23.4v23.4h-23.4zM571.05 1486.13h23.4v23.4h-23.4zM592.72 1486.59h23.4v23.4h-23.4zM614.4 1486.79h23.4v23.4h-23.4zM636.07 1487.12h23.4v23.4h-23.4zM657.75 1487.31h23.4v23.4h-23.4zM679.42 1487.44h23.4v23.4h-23.4zM701.1 1487.64h23.4v23.4h-23.4zM722.77 1487.77h23.4v23.4h-23.4zM744.44 1487.9h23.4v23.4h-23.4zM766.12 1488.04h23.4v23.4h-23.4zM787.79 1488.17h23.4v23.4h-23.4zM809.47 1488.3h23.4v23.4h-23.4z" fill="#000"/><path d="M274.9 1502.1L275.82 1502.1L276.75 1502.1L277.67 1502.1L278.6 1502.1L279.52 1502.1L280.44 1502.1L281.37 1502.1L282.29 1502.1L283.22 1502.1L284.14 1502.1L285.07 1502.1L285.99 1502.1L286.92 1502.1L287.84 1502.1L288.77 1502.1L289.69 1502.1L290.62 1502.1L291.54 1502.1L292.47 1502.1L293.39 1502.1L294.31 1502.1L295.24 1502.1L296.16 1502.1L297.09 1502.1L298.01 1502.1L298.94 1502.1L299.86 1502.1L300.79 1502.1L301.71 1502.1L302.64 1502.1L303.56 1502.1L304.49 1502.1L305.41 1502.1L306.34 1502.1L307.26 1502.1L308.18 1502.1L309.11 1502.1L310.03 1502.1L310.96 1502.1L311.88 1502.1L312.81 1502.1L313.73 1502.1L314.66 1502.1L315.58 1502.1L316.51 1502.1L317.43 1502.1L318.36 1502.1L319.28 1502.1L320.21 1502.1L321.13 1502.1L322.06 1502.1L322.98 1502.1L323.9 1502.1L324.83 1502.1L325.75 1502.1L326.68 1502.1L327.6 1502.1L328.53 1502.1L329.45 1502.1L330.38 1502.1L331.3 1502.1L332.23 1502.1L333.15 1502.1L334.08 1502.1L335 1502.1L335.93 1502.1L336.85 1502.1L337.77 1502.1L338.7 1502.1L339.62 1502.1L340.55 1502.1L341.47 1502.1L342.4 1502.1L343.32 1502.1L344.25 1502.1L345.17 1502.1L346.1 1502.1L347.02 1502.1L347.95 1502.1L348.87 1502.09L349.8 1502.09L350.72 1502.09L351.64 1502.09L352.57 1502.09L353.49 1502.09L354.42 1502.08L355.34 1502.08L356.27 1502.08L357.19 1502.07L358.12 1502.07L359.04 1502.06L359.97 1502.05L360.89 1502.04L361.82 1502.03L362.74 1502.02L363.67 1502.01L364.59 1501.99L365.51 1501.97L366.44 1501.95L367.36 1501.93L368.29 1501.9L369.21 1501.87L370.14 1501.83L371.06 1501.79L371.99 1501.74L372.91 1501.68L373.84 1501.61L374.76 1501.54L375.69 1501.45L376.61 1501.36L377.54 1501.24L378.46 1501.12L379.38 1500.98L380.31 1500.81L381.23 1500.63L382.16 1500.42L383.08 1500.19L384.01 1499.93L384.93 1499.63L385.86 1499.3L386.78 1498.93L387.71 1498.51L388.63 1498.05L389.56 1497.53L390.48 1496.96L391.41 1496.31L392.33 1495.6L393.25 1494.82L394.18 1493.94L395.1 1492.98L396.03 1491.92L396.95 1490.75L397.88 1489.46L398.8 1488.05L399.73 1486.51L400.65 1484.82L401.58 1482.97L402.5 1480.95L403.43 1478.76L404.35 1476.38L405.28 1473.79L406.2 1470.99L407.12 1467.96L408.05 1464.69L408.97 1461.17L409.9 1457.37L410.82 1453.3L411.75 1448.93L412.67 1444.26L413.6 1439.26L414.52 1433.93L415.45 1428.25L416.37 1422.22L417.3 1415.81L418.22 1409.03L419.15 1401.86L420.07 1394.29L420.99 1386.32L421.92 1377.93L422.84 1369.13L423.77 1359.91L424.69 1350.27L425.62 1340.21L426.54 1329.73L427.47 1318.83L428.39 1307.53L429.32 1295.82L430.24 1283.72L431.17 1271.25L432.09 1258.42L433.02 1245.24L433.94 1231.73L434.87 1217.93L435.79 1203.85L436.71 1189.52L437.64 1174.98L438.56 1160.25L439.49 1145.37L440.41 1130.37L441.34 1115.31L442.26 1100.21L443.19 1085.12L444.11 1070.08L445.04 1055.15L445.96 1040.36L446.89 1025.77L447.81 1011.43L448.74 997.37L449.66 983.67L450.58 970.35L451.51 957.48L452.43 945.09L453.36 933.24L454.28 921.98L455.21 911.34L456.13 901.37L457.06 892.11L457.98 883.6L458.91 875.87L459.83 868.95L460.76 862.87L461.68 857.67L462.61 853.35L463.53 849.95L464.45 847.46L465.38 845.92L466.3 845.31L467.23 845.65L468.15 846.93L469.08 849.14L470 852.29L470.93 856.34L471.85 861.3L472.78 867.12L473.7 873.8L474.63 881.31L475.55 889.6L476.48 898.65L477.4 908.42L478.32 918.87L479.25 929.96L480.17 941.65L481.1 953.89L482.02 966.63L482.95 979.82L483.87 993.42L484.8 1007.38L485.72 1021.65L486.65 1036.17L487.57 1050.91L488.5 1065.8L489.42 1080.81L490.35 1095.89L491.27 1110.99L492.19 1126.07L493.12 1141.09L494.04 1156.01L494.97 1170.79L495.89 1185.39L496.82 1199.78L497.74 1213.93L498.67 1227.82L499.59 1241.41L500.52 1254.68L501.44 1267.62L502.37 1280.2L503.29 1292.4L504.22 1304.22L505.14 1315.64L506.06 1326.66L506.99 1337.26L507.91 1347.44L508.84 1357.2L509.76 1366.54L510.69 1375.46L511.61 1383.96L512.54 1392.05L513.46 1399.74L514.39 1407.02L515.31 1413.92L516.24 1420.43L517.16 1426.56L518.09 1432.34L519.01 1437.77L519.93 1442.86L520.86 1447.63L521.78 1452.08L522.71 1456.24L523.63 1460.11L524.56 1463.71L525.48 1467.05L526.41 1470.15L527.33 1473.01L528.26 1475.66L529.18 1478.1L530.11 1480.35L531.03 1482.41L531.96 1484.3L532.88 1486.04L533.8 1487.63L534.73 1489.07L535.65 1490.39L536.58 1491.6L537.5 1492.69L538.43 1493.68L539.35 1494.58L540.28 1495.39L541.2 1496.12L542.13 1496.78L543.05 1497.37L543.98 1497.91L544.9 1498.39L545.83 1498.81L546.75 1499.2L547.68 1499.54L548.6 1499.85L549.52 1500.12L550.45 1500.36L551.37 1500.57L552.3 1500.76L553.22 1500.93L554.15 1501.08L555.07 1501.21L556 1501.33L556.92 1501.43L557.85 1501.52L558.77 1501.59L559.7 1501.66L560.62 1501.72L561.55 1501.77L562.47 1501.82L563.39 1501.86L564.32 1501.89L565.24 1501.92L566.17 1501.95L567.09 1501.97L568.02 1501.99L568.94 1502L569.87 1502.02L570.79 1502.03L571.72 1502.04L572.64 1502.05L573.57 1502.06L574.49 1502.06L575.42 1502.07L576.34 1502.07L577.26 1502.08L578.19 1502.08L579.11 1502.08L580.04 1502.09L580.96 1502.09L581.89 1502.09L582.81 1502.09L583.74 1502.09L584.66 1502.09L585.59 1502.1L586.51 1502.1L587.44 1502.1L588.36 1502.1L589.29 1502.1L590.21 1502.1L591.13 1502.1L592.06 1502.1L592.98 1502.1L593.91 1502.1L594.83 1502.1L595.76 1502.1L596.68 1502.1L597.61 1502.1L598.53 1502.1L599.46 1502.1L600.38 1502.1L601.31 1502.1L602.23 1502.1L603.16 1502.1L604.08 1502.1L605 1502.1L605.93 1502.1L606.85 1502.1L607.78 1502.1L608.7 1502.1L609.63 1502.1L610.55 1502.1L611.48 1502.1L612.4 1502.1L613.33 1502.1L614.25 1502.1L615.18 1502.1L616.1 1502.1L617.03 1502.1L617.95 1502.1L618.87 1502.1L619.8 1502.1L620.72 1502.1L621.65 1502.1L622.57 1502.1L623.5 1502.1L624.42 1502.1L625.35 1502.1L626.27 1502.1L627.2 1502.1L628.12 1502.1L629.05 1502.1L629.97 1502.1L630.9 1502.1L631.82 1502.1L632.74 1502.1L633.67 1502.1L634.59 1502.1L635.52 1502.1L636.44 1502.1L637.37 1502.1L638.29 1502.1L639.22 1502.1L640.14 1502.1L641.07 1502.1L641.99 1502.1L642.92 1502.1L643.84 1502.1L644.77 1502.1L645.69 1502.1L646.61 1502.1L647.54 1502.1L648.46 1502.1L649.39 1502.1L650.31 1502.1L651.24 1502.1L652.16 1502.1L653.09 1502.1L654.01 1502.1L654.94 1502.1L655.86 1502.1L656.79 1502.1L657.71 1502.1L658.64 1502.1L659.56 1502.1L660.49 1502.1L661.41 1502.1L662.33 1502.1L663.26 1502.1L664.18 1502.1L665.11 1502.1L666.03 1502.1L666.96 1502.1L667.88 1502.1L668.81 1502.1L669.73 1502.1L670.66 1502.1L671.58 1502.1L672.51 1502.1L673.43 1502.1L674.36 1502.1L675.28 1502.1L676.2 1502.1L677.13 1502.1L678.05 1502.1L678.98 1502.1L679.9 1502.1L680.83 1502.1L681.75 1502.1L682.68 1502.1L683.6 1502.1L684.53 1502.1L685.45 1502.1L686.38 1502.1L687.3 1502.1L688.23 1502.1L689.15 1502.1L690.07 1502.1L691 1502.1L691.92 1502.1L692.85 1502.1L693.77 1502.1L694.7 1502.1L695.62 1502.1L696.55 1502.1L697.47 1502.1L698.4 1502.1L699.32 1502.1L700.25 1502.1L701.17 1502.1L702.1 1502.1L703.02 1502.1L703.94 1502.1L704.87 1502.1L705.79 1502.1L706.72 1502.1L707.64 1502.1L708.57 1502.1L709.49 1502.1L710.42 1502.1L711.34 1502.1L712.27 1502.1L713.19 1502.1L714.12 1502.1L715.04 1502.1L715.97 1502.1L716.89 1502.1L717.81 1502.1L718.74 1502.1L719.66 1502.1L720.59 1502.1L721.51 1502.1L722.44 1502.1L723.36 1502.1L724.29 1502.1L725.21 1502.1L726.14 1502.1L727.06 1502.1L727.99 1502.1L728.91 1502.1L729.84 1502.1L730.76 1502.1L731.68 1502.1L732.61 1502.1L733.53 1502.1L734.46 1502.1L735.38 1502.1L736.31 1502.1L737.23 1502.1L738.16 1502.1L739.08 1502.1L740.01 1502.1L740.93 1502.1L741.86 1502.1L742.78 1502.1L743.71 1502.1L744.63 1502.1L745.55 1502.1L746.48 1502.1L747.4 1502.1L748.33 1502.1L749.25 1502.1L750.18 1502.1L751.1 1502.1L752.03 1502.1L752.95 1502.1L753.88 1502.1L754.8 1502.1L755.73 1502.1L756.65 1502.1L757.58 1502.1L758.5 1502.1L759.42 1502.1L760.35 1502.1L761.27 1502.1L762.2 1502.1L763.12 1502.1L764.05 1502.1L764.97 1502.1L765.9 1502.1L766.82 1502.1L767.75 1502.1L768.67 1502.1L769.6 1502.1L770.52 1502.1L771.45 1502.1L772.37 1502.1L773.3 1502.1L774.22 1502.1L775.14 1502.1L776.07 1502.1L776.99 1502.1L777.92 1502.1L778.84 1502.1L779.77 1502.1L780.69 1502.1L781.62 1502.1L782.54 1502.1L783.47 1502.1L784.39 1502.1L785.32 1502.1L786.24 1502.1L787.17 1502.1L788.09 1502.1L789.01 1502.1L789.94 1502.1L790.86 1502.1L791.79 1502.1L792.71 1502.1L793.64 1502.1L794.56 1502.1L795.49 1502.1L796.41 1502.1L797.34 1502.1L798.26 1502.1L799.19 1502.1L800.11 1502.1L801.04 1502.1L801.96 1502.1L802.88 1502.1L803.81 1502.1L804.73 1502.1L805.66 1502.1L806.58 1502.1L807.51 1502.1L808.43 1502.1L809.36 1502.1L810.28 1502.1L811.21 1502.1L812.13 1502.1L813.06 1502.1L813.98 1502.1L814.91 1502.1L815.83 1502.1L816.75 1502.1L817.68 1502.1L818.6 1502.1L819.53 1502.1L820.45 1502.1L821.38 1502.1L822.3 1502.1L823.23 1502.1L824.15 1502.1L825.08 1502.1L826 1502.1L826.93 1502.1L827.85 1502.1L828.78 1502.1L829.7 1502.1" fill="none" stroke="#e41b33" stroke-width="2.3" stroke-linejoin="round"/><text transform="translate(295.4 930.3)" font-size="91" fill="#000">(d)</text><text transform="translate(509.7 1050.6) scale(1.18 1.0)" font-size="55.8" fill="#000" font-family="Liberation Serif, serif">λ</text><text transform="translate(543.1 1077.1) scale(1.0 1.02)" font-size="44" fill="#000">c</text><text transform="translate(566.3 1050.1) scale(1.0 1.035)" font-size="55.6" fill="#000">=400.195</text><text transform="translate(525.5 1161.4) scale(1.255 1.0)" font-size="49.1" fill="#000" font-family="Liberation Serif, serif" font-style="italic">σ</text><text transform="translate(559.5 1160.8) scale(1.0 1.035)" font-size="55.6" fill="#000">=0.9350</text><text transform="translate(247.8 874.3) scale(1.0 1.025)" font-size="79" fill="#262626" text-anchor="end">1</text><text transform="translate(245.3 1202.7) scale(1.0 1.02)" font-size="79" fill="#262626" text-anchor="end">0.5</text><text transform="translate(245.3 1531.1) scale(1.0 1.02)" font-size="79" fill="#262626" text-anchor="end">0</text><text transform="translate(277.9 1609.3) scale(1.0 1.02)" font-size="79" fill="#262626" text-anchor="middle">395</text><text transform="translate(461.25 1609.3) scale(1.0 1.02)" font-size="79" fill="#262626" text-anchor="middle">400</text><text transform="translate(644 1609.3) scale(1.0 1.02)" font-size="79" fill="#262626" text-anchor="middle">405</text><text transform="translate(826.8 1609.3) scale(1.0 1.02)" font-size="79" fill="#262626" text-anchor="middle">410</text></g><g><path d="M984.3 845.3H1532.5V1502.1H984.3Z" fill="none" stroke="#262626" stroke-width="5.5" stroke-linejoin="miter"/><path d="M984.3 836V845.3M984.3 1502.1V1511.4M1167.03 836V845.3M1167.03 1502.1V1511.4M1349.77 836V845.3M1349.77 1502.1V1511.4M1532.5 836V845.3M1532.5 1502.1V1511.4" stroke="#262626" stroke-width="4.95" fill="none"/><path d="M1170.69 845.3V1502.1" stroke="#8e8e8e" stroke-width="3" stroke-dasharray="21.2 12.25" fill="none"/><path d="M972.6 1489.09h23.4v23.4h-23.4zM994.19 1488.76h23.4v23.4h-23.4zM1015.78 1488.1h23.4v23.4h-23.4zM1037.36 1487.44h23.4v23.4h-23.4zM1058.95 1486.46h23.4v23.4h-23.4zM1080.54 1483.5h23.4v23.4h-23.4zM1102.13 1459.92h23.4v23.4h-23.4zM1123.72 1284.62h23.4v23.4h-23.4zM1145.3 933.3h23.4v23.4h-23.4zM1166.89 894.22h23.4v23.4h-23.4zM1188.48 1187.88h23.4v23.4h-23.4zM1210.07 1403.9h23.4v23.4h-23.4zM1231.66 1470.3h23.4v23.4h-23.4zM1253.25 1484.09h23.4v23.4h-23.4zM1274.83 1486.13h23.4v23.4h-23.4zM1296.42 1486.59h23.4v23.4h-23.4zM1318.01 1486.79h23.4v23.4h-23.4zM1339.6 1487.12h23.4v23.4h-23.4zM1361.19 1487.31h23.4v23.4h-23.4zM1382.77 1487.44h23.4v23.4h-23.4zM1404.36 1487.64h23.4v23.4h-23.4zM1425.95 1487.77h23.4v23.4h-23.4zM1447.54 1487.9h23.4v23.4h-23.4zM1469.13 1488.04h23.4v23.4h-23.4zM1490.71 1488.17h23.4v23.4h-23.4zM1512.3 1488.3h23.4v23.4h-23.4z" fill="#000"/><path d="M979.91 1502.1L980.84 1502.1L981.76 1502.1L982.68 1502.1L983.6 1502.1L984.52 1502.1L985.44 1502.1L986.36 1502.1L987.28 1502.1L988.2 1502.1L989.12 1502.1L990.05 1502.1L990.97 1502.1L991.89 1502.1L992.81 1502.1L993.73 1502.1L994.65 1502.1L995.57 1502.1L996.49 1502.1L997.41 1502.1L998.33 1502.1L999.25 1502.1L1000.18 1502.1L1001.1 1502.1L1002.02 1502.1L1002.94 1502.1L1003.86 1502.1L1004.78 1502.1L1005.7 1502.1L1006.62 1502.1L1007.54 1502.1L1008.46 1502.1L1009.39 1502.1L1010.31 1502.1L1011.23 1502.1L1012.15 1502.1L1013.07 1502.1L1013.99 1502.1L1014.91 1502.1L1015.83 1502.1L1016.75 1502.1L1017.67 1502.1L1018.6 1502.1L1019.52 1502.1L1020.44 1502.1L1021.36 1502.1L1022.28 1502.1L1023.2 1502.1L1024.12 1502.1L1025.04 1502.1L1025.96 1502.1L1026.88 1502.1L1027.81 1502.1L1028.73 1502.1L1029.65 1502.1L1030.57 1502.1L1031.49 1502.1L1032.41 1502.1L1033.33 1502.1L1034.25 1502.1L1035.17 1502.1L1036.09 1502.1L1037.01 1502.1L1037.94 1502.1L1038.86 1502.1L1039.78 1502.1L1040.7 1502.1L1041.62 1502.1L1042.54 1502.1L1043.46 1502.1L1044.38 1502.1L1045.3 1502.1L1046.22 1502.1L1047.15 1502.1L1048.07 1502.1L1048.99 1502.1L1049.91 1502.1L1050.83 1502.1L1051.75 1502.1L1052.67 1502.1L1053.59 1502.09L1054.51 1502.09L1055.43 1502.09L1056.36 1502.09L1057.28 1502.09L1058.2 1502.09L1059.12 1502.08L1060.04 1502.08L1060.96 1502.08L1061.88 1502.07L1062.8 1502.07L1063.72 1502.06L1064.64 1502.05L1065.57 1502.04L1066.49 1502.03L1067.41 1502.02L1068.33 1502.01L1069.25 1501.99L1070.17 1501.97L1071.09 1501.95L1072.01 1501.93L1072.93 1501.9L1073.85 1501.87L1074.77 1501.83L1075.7 1501.79L1076.62 1501.74L1077.54 1501.68L1078.46 1501.61L1079.38 1501.54L1080.3 1501.45L1081.22 1501.36L1082.14 1501.24L1083.06 1501.12L1083.98 1500.98L1084.91 1500.81L1085.83 1500.63L1086.75 1500.42L1087.67 1500.19L1088.59 1499.93L1089.51 1499.63L1090.43 1499.3L1091.35 1498.93L1092.27 1498.51L1093.19 1498.05L1094.12 1497.53L1095.04 1496.96L1095.96 1496.31L1096.88 1495.6L1097.8 1494.82L1098.72 1493.94L1099.64 1492.98L1100.56 1491.92L1101.48 1490.75L1102.4 1489.46L1103.33 1488.05L1104.25 1486.51L1105.17 1484.82L1106.09 1482.97L1107.01 1480.95L1107.93 1478.76L1108.85 1476.38L1109.77 1473.79L1110.69 1470.99L1111.61 1467.96L1112.53 1464.69L1113.46 1461.17L1114.38 1457.37L1115.3 1453.3L1116.22 1448.93L1117.14 1444.26L1118.06 1439.26L1118.98 1433.93L1119.9 1428.25L1120.82 1422.22L1121.74 1415.81L1122.67 1409.03L1123.59 1401.86L1124.51 1394.29L1125.43 1386.32L1126.35 1377.93L1127.27 1369.13L1128.19 1359.91L1129.11 1350.27L1130.03 1340.21L1130.95 1329.73L1131.88 1318.83L1132.8 1307.53L1133.72 1295.82L1134.64 1283.72L1135.56 1271.25L1136.48 1258.42L1137.4 1245.24L1138.32 1231.73L1139.24 1217.93L1140.16 1203.85L1141.09 1189.52L1142.01 1174.98L1142.93 1160.25L1143.85 1145.37L1144.77 1130.37L1145.69 1115.31L1146.61 1100.21L1147.53 1085.12L1148.45 1070.08L1149.37 1055.15L1150.29 1040.36L1151.22 1025.77L1152.14 1011.43L1153.06 997.37L1153.98 983.67L1154.9 970.35L1155.82 957.48L1156.74 945.09L1157.66 933.24L1158.58 921.98L1159.5 911.34L1160.43 901.37L1161.35 892.11L1162.27 883.6L1163.19 875.87L1164.11 868.95L1165.03 862.87L1165.95 857.67L1166.87 853.35L1167.79 849.95L1168.71 847.46L1169.64 845.92L1170.56 845.31L1171.48 845.65L1172.4 846.93L1173.32 849.14L1174.24 852.29L1175.16 856.34L1176.08 861.3L1177 867.12L1177.92 873.8L1178.85 881.31L1179.77 889.6L1180.69 898.65L1181.61 908.42L1182.53 918.87L1183.45 929.96L1184.37 941.65L1185.29 953.89L1186.21 966.63L1187.13 979.82L1188.05 993.42L1188.98 1007.38L1189.9 1021.65L1190.82 1036.17L1191.74 1050.91L1192.66 1065.8L1193.58 1080.81L1194.5 1095.89L1195.42 1110.99L1196.34 1126.07L1197.26 1141.09L1198.19 1156.01L1199.11 1170.79L1200.03 1185.39L1200.95 1199.78L1201.87 1213.93L1202.79 1227.82L1203.71 1241.41L1204.63 1254.68L1205.55 1267.62L1206.47 1280.2L1207.4 1292.4L1208.32 1304.22L1209.24 1315.64L1210.16 1326.66L1211.08 1337.26L1212 1347.44L1212.92 1357.2L1213.84 1366.54L1214.76 1375.46L1215.68 1383.96L1216.61 1392.05L1217.53 1399.74L1218.45 1407.02L1219.37 1413.92L1220.29 1420.43L1221.21 1426.56L1222.13 1432.34L1223.05 1437.77L1223.97 1442.86L1224.89 1447.63L1225.81 1452.08L1226.74 1456.24L1227.66 1460.11L1228.58 1463.71L1229.5 1467.05L1230.42 1470.15L1231.34 1473.01L1232.26 1475.66L1233.18 1478.1L1234.1 1480.35L1235.02 1482.41L1235.95 1484.3L1236.87 1486.04L1237.79 1487.63L1238.71 1489.07L1239.63 1490.39L1240.55 1491.6L1241.47 1492.69L1242.39 1493.68L1243.31 1494.58L1244.23 1495.39L1245.16 1496.12L1246.08 1496.78L1247 1497.37L1247.92 1497.91L1248.84 1498.39L1249.76 1498.81L1250.68 1499.2L1251.6 1499.54L1252.52 1499.85L1253.44 1500.12L1254.37 1500.36L1255.29 1500.57L1256.21 1500.76L1257.13 1500.93L1258.05 1501.08L1258.97 1501.21L1259.89 1501.33L1260.81 1501.43L1261.73 1501.52L1262.65 1501.59L1263.58 1501.66L1264.5 1501.72L1265.42 1501.77L1266.34 1501.82L1267.26 1501.86L1268.18 1501.89L1269.1 1501.92L1270.02 1501.95L1270.94 1501.97L1271.86 1501.99L1272.78 1502L1273.71 1502.02L1274.63 1502.03L1275.55 1502.04L1276.47 1502.05L1277.39 1502.06L1278.31 1502.06L1279.23 1502.07L1280.15 1502.07L1281.07 1502.08L1281.99 1502.08L1282.92 1502.08L1283.84 1502.09L1284.76 1502.09L1285.68 1502.09L1286.6 1502.09L1287.52 1502.09L1288.44 1502.09L1289.36 1502.1L1290.28 1502.1L1291.2 1502.1L1292.13 1502.1L1293.05 1502.1L1293.97 1502.1L1294.89 1502.1L1295.81 1502.1L1296.73 1502.1L1297.65 1502.1L1298.57 1502.1L1299.49 1502.1L1300.41 1502.1L1301.34 1502.1L1302.26 1502.1L1303.18 1502.1L1304.1 1502.1L1305.02 1502.1L1305.94 1502.1L1306.86 1502.1L1307.78 1502.1L1308.7 1502.1L1309.62 1502.1L1310.54 1502.1L1311.47 1502.1L1312.39 1502.1L1313.31 1502.1L1314.23 1502.1L1315.15 1502.1L1316.07 1502.1L1316.99 1502.1L1317.91 1502.1L1318.83 1502.1L1319.75 1502.1L1320.68 1502.1L1321.6 1502.1L1322.52 1502.1L1323.44 1502.1L1324.36 1502.1L1325.28 1502.1L1326.2 1502.1L1327.12 1502.1L1328.04 1502.1L1328.96 1502.1L1329.89 1502.1L1330.81 1502.1L1331.73 1502.1L1332.65 1502.1L1333.57 1502.1L1334.49 1502.1L1335.41 1502.1L1336.33 1502.1L1337.25 1502.1L1338.17 1502.1L1339.1 1502.1L1340.02 1502.1L1340.94 1502.1L1341.86 1502.1L1342.78 1502.1L1343.7 1502.1L1344.62 1502.1L1345.54 1502.1L1346.46 1502.1L1347.38 1502.1L1348.3 1502.1L1349.23 1502.1L1350.15 1502.1L1351.07 1502.1L1351.99 1502.1L1352.91 1502.1L1353.83 1502.1L1354.75 1502.1L1355.67 1502.1L1356.59 1502.1L1357.51 1502.1L1358.44 1502.1L1359.36 1502.1L1360.28 1502.1L1361.2 1502.1L1362.12 1502.1L1363.04 1502.1L1363.96 1502.1L1364.88 1502.1L1365.8 1502.1L1366.72 1502.1L1367.65 1502.1L1368.57 1502.1L1369.49 1502.1L1370.41 1502.1L1371.33 1502.1L1372.25 1502.1L1373.17 1502.1L1374.09 1502.1L1375.01 1502.1L1375.93 1502.1L1376.86 1502.1L1377.78 1502.1L1378.7 1502.1L1379.62 1502.1L1380.54 1502.1L1381.46 1502.1L1382.38 1502.1L1383.3 1502.1L1384.22 1502.1L1385.14 1502.1L1386.06 1502.1L1386.99 1502.1L1387.91 1502.1L1388.83 1502.1L1389.75 1502.1L1390.67 1502.1L1391.59 1502.1L1392.51 1502.1L1393.43 1502.1L1394.35 1502.1L1395.27 1502.1L1396.2 1502.1L1397.12 1502.1L1398.04 1502.1L1398.96 1502.1L1399.88 1502.1L1400.8 1502.1L1401.72 1502.1L1402.64 1502.1L1403.56 1502.1L1404.48 1502.1L1405.41 1502.1L1406.33 1502.1L1407.25 1502.1L1408.17 1502.1L1409.09 1502.1L1410.01 1502.1L1410.93 1502.1L1411.85 1502.1L1412.77 1502.1L1413.69 1502.1L1414.62 1502.1L1415.54 1502.1L1416.46 1502.1L1417.38 1502.1L1418.3 1502.1L1419.22 1502.1L1420.14 1502.1L1421.06 1502.1L1421.98 1502.1L1422.9 1502.1L1423.82 1502.1L1424.75 1502.1L1425.67 1502.1L1426.59 1502.1L1427.51 1502.1L1428.43 1502.1L1429.35 1502.1L1430.27 1502.1L1431.19 1502.1L1432.11 1502.1L1433.03 1502.1L1433.96 1502.1L1434.88 1502.1L1435.8 1502.1L1436.72 1502.1L1437.64 1502.1L1438.56 1502.1L1439.48 1502.1L1440.4 1502.1L1441.32 1502.1L1442.24 1502.1L1443.17 1502.1L1444.09 1502.1L1445.01 1502.1L1445.93 1502.1L1446.85 1502.1L1447.77 1502.1L1448.69 1502.1L1449.61 1502.1L1450.53 1502.1L1451.45 1502.1L1452.38 1502.1L1453.3 1502.1L1454.22 1502.1L1455.14 1502.1L1456.06 1502.1L1456.98 1502.1L1457.9 1502.1L1458.82 1502.1L1459.74 1502.1L1460.66 1502.1L1461.58 1502.1L1462.51 1502.1L1463.43 1502.1L1464.35 1502.1L1465.27 1502.1L1466.19 1502.1L1467.11 1502.1L1468.03 1502.1L1468.95 1502.1L1469.87 1502.1L1470.79 1502.1L1471.72 1502.1L1472.64 1502.1L1473.56 1502.1L1474.48 1502.1L1475.4 1502.1L1476.32 1502.1L1477.24 1502.1L1478.16 1502.1L1479.08 1502.1L1480 1502.1L1480.93 1502.1L1481.85 1502.1L1482.77 1502.1L1483.69 1502.1L1484.61 1502.1L1485.53 1502.1L1486.45 1502.1L1487.37 1502.1L1488.29 1502.1L1489.21 1502.1L1490.14 1502.1L1491.06 1502.1L1491.98 1502.1L1492.9 1502.1L1493.82 1502.1L1494.74 1502.1L1495.66 1502.1L1496.58 1502.1L1497.5 1502.1L1498.42 1502.1L1499.34 1502.1L1500.27 1502.1L1501.19 1502.1L1502.11 1502.1L1503.03 1502.1L1503.95 1502.1L1504.87 1502.1L1505.79 1502.1L1506.71 1502.1L1507.63 1502.1L1508.55 1502.1L1509.48 1502.1L1510.4 1502.1L1511.32 1502.1L1512.24 1502.1L1513.16 1502.1L1514.08 1502.1L1515 1502.1L1515.92 1502.1L1516.84 1502.1L1517.76 1502.1L1518.69 1502.1L1519.61 1502.1L1520.53 1502.1L1521.45 1502.1L1522.37 1502.1L1523.29 1502.1L1524.21 1502.1L1525.13 1502.1L1526.05 1502.1L1526.97 1502.1L1527.9 1502.1L1528.82 1502.1L1529.74 1502.1L1530.66 1502.1L1531.58 1502.1L1532.5 1502.1" fill="none" stroke="#e41b33" stroke-width="2.3" stroke-linejoin="round"/><text transform="translate(1000.4 930.3)" font-size="91" fill="#000">(e)</text><text transform="translate(1214.7 1050.6) scale(1.18 1.0)" font-size="55.8" fill="#000" font-family="Liberation Serif, serif">λ</text><text transform="translate(1248.1 1077.1) scale(1.0 1.02)" font-size="44" fill="#000">c</text><text transform="translate(1271.3 1050.1) scale(1.0 1.035)" font-size="55.6" fill="#000">=400.195</text><text transform="translate(1230.5 1161.4) scale(1.255 1.0)" font-size="49.1" fill="#000" font-family="Liberation Serif, serif" font-style="italic">σ</text><text transform="translate(1264.5 1160.8) scale(1.0 1.035)" font-size="55.6" fill="#000">=0.9350</text><text transform="translate(983.4 1609.3) scale(1.0 1.02)" font-size="79" fill="#262626" text-anchor="middle">395</text><text transform="translate(1165.2 1609.3) scale(1.0 1.02)" font-size="79" fill="#262626" text-anchor="middle">400</text><text transform="translate(1348 1609.3) scale(1.0 1.02)" font-size="79" fill="#262626" text-anchor="middle">405</text><text transform="translate(1530.8 1609.3) scale(1.0 1.02)" font-size="79" fill="#262626" text-anchor="middle">410</text></g><text transform="translate(986.9 1722.2)" font-size="77.9" fill="#262626">Wavelength/nm</text><text transform="translate(96.2 1274.9) rotate(-90)" font-size="78.15" fill="#262626">Spectral Response Function</text><rect x="1719.5" y="1113.8" width="24" height="24" fill="#000"/><text transform="translate(1814.4 1149.3)" font-size="66.8" fill="#000">sampling points</text><path d="M1658.8 1246H1804.2" stroke="#e41b33" stroke-width="2.5"/><text transform="translate(1813.8 1270.2)" font-size="66.8" fill="#000">fitting curve</text></svg>
</body></html>
